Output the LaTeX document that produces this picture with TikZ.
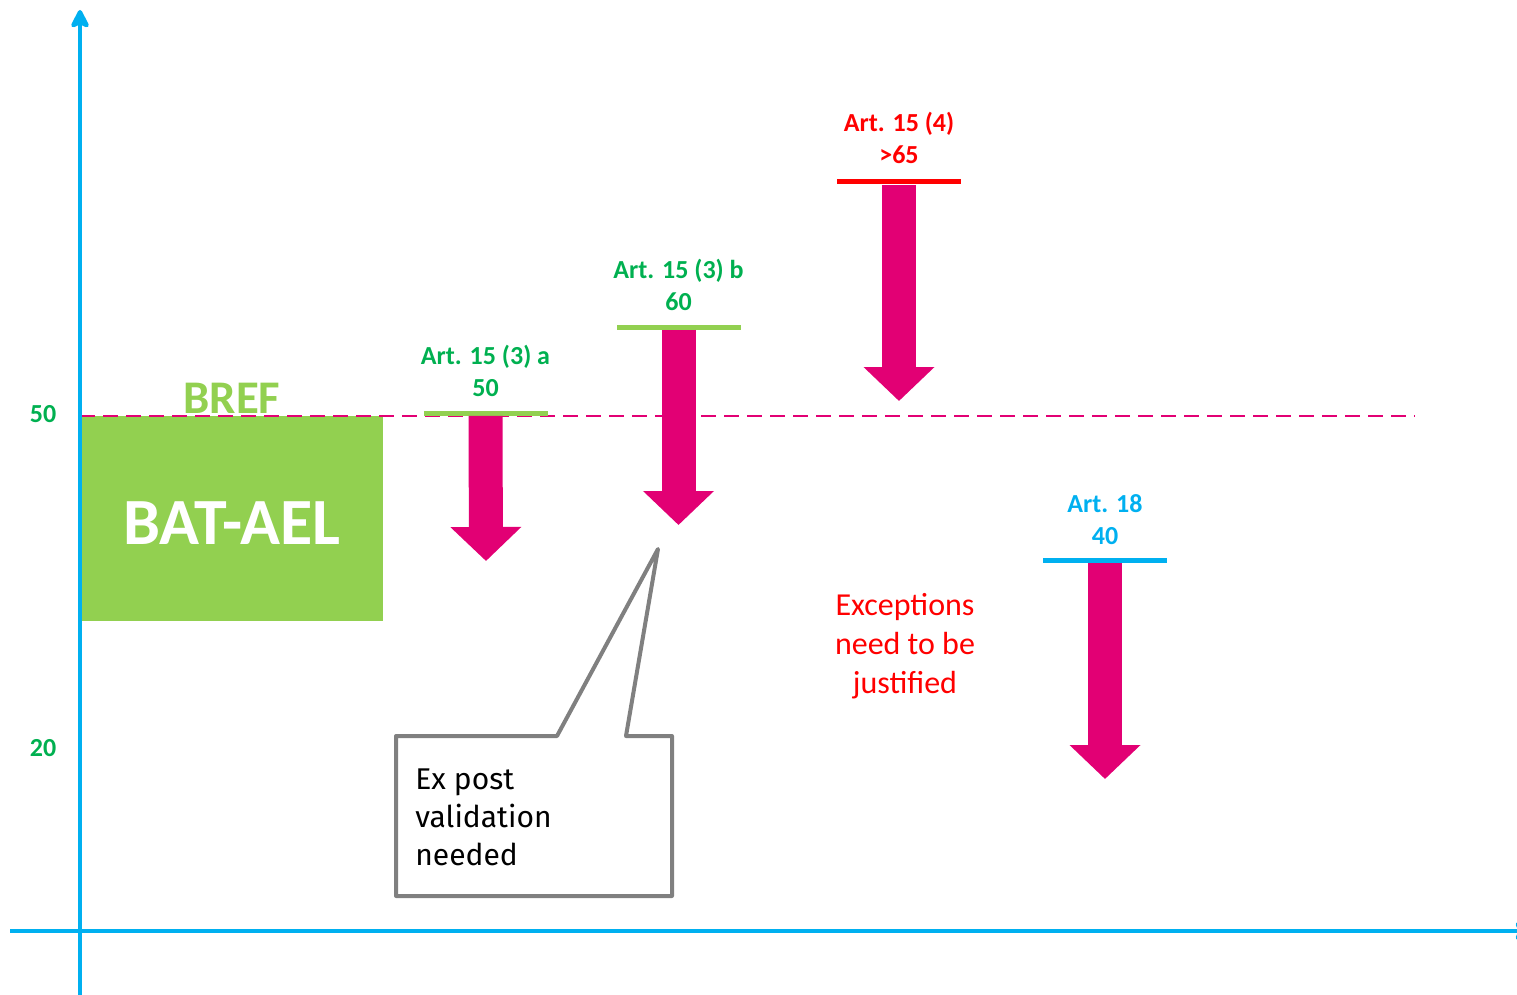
\documentclass[tikz,border=0pt]{standalone}
\usepackage{fontspec}
\setmainfont{Carlito}
\newfontfamily\calloutfont{Fira Sans}
\usepackage{xcolor}
\definecolor{baCyan}{RGB}{0,176,240}
\definecolor{baGreen}{RGB}{0,176,80}
\definecolor{baLime}{RGB}{146,208,80}
\definecolor{baMagenta}{RGB}{226,0,116}
\definecolor{baRed}{RGB}{255,0,0}
\definecolor{baGrey}{RGB}{128,128,128}
\usepackage{tikz}
\usetikzlibrary{positioning,arrows.meta}
\tikzset{
  ba-axis/.style={baCyan,line width=2.2pt,-{Stealth[length=11pt,width=11pt,inset=2.5pt,round]}},
  ba-ref/.style={baMagenta,line width=1pt,dash pattern=on 7.5pt off 4pt},
  ba-bar/.style={rectangle,inner sep=0pt,minimum width=62pt,minimum height=2.5pt},
  ba-label/.style={font=\fontsize{13}{16}\selectfont\bfseries,align=center,inner sep=0pt},
  ba-down/.style={baMagenta,line width=17pt,-{Triangle[length=17pt,width=34.5pt]}},
  ba-tick/.style={font=\fontsize{13}{16}\selectfont\bfseries,text=baGreen},
  ba-call/.style={draw=baGrey,fill=white,line width=2pt,line join=round},
}

\begin{document}
\begin{tikzpicture}[x=0.5pt,y=-0.5pt]
  \useasboundingbox (0,0) rectangle (1517,995);

  % BAT-AEL range
  \node[fill=baLime,minimum width=151.5pt,minimum height=102.5pt,inner sep=0pt,anchor=north west] (bat) at (80,416) {};
  \node[text=white,font=\fontsize{33}{33}\selectfont\bfseries,inner sep=0pt] (batlab) at (232,523) {BAT-AEL};
  \node[text=baLime,font=\fontsize{23.4}{24}\selectfont\bfseries,inner sep=0pt] (bref) at (232,398) {BREF};
  \coordinate (refend) at (1415,416);
  \draw[ba-ref] (bat.north west) -- (refend);

  % exceptions (bar + arrow down)
  \node[ba-bar,fill=baLime] (barA) at (485.5,413) {};
  \node[ba-label,text=baGreen,above=6.5pt of barA] (labA) {Art. 15 (3) a\\50};
  \coordinate (tipA) at (486,561);

  \node[ba-bar,fill=baLime] (barB) at (678.5,327) {};
  \node[ba-label,text=baGreen,above=6.5pt of barB] (labB) {Art. 15 (3) b\\60};
  \coordinate (tipB) at (678.5,525);

  \node[ba-bar,fill=baRed] (barC) at (899,182) {};
  \node[ba-label,text=baRed,above=7.5pt of barC] (labC) {Art. 15 (4)\\>65};
  \coordinate (tipC) at (899,401);

  \node[ba-bar,fill=baCyan] (barD) at (1105,560) {};
  \node[ba-label,text=baCyan,above=6pt of barD] (labD) {Art. 18\\40};
  \coordinate (tipD) at (1105,779);

  \draw[ba-down] (barA.south) -- (tipA);
  \draw[ba-down] (barB.south) -- (tipB);
  \draw[ba-down] (barC.south) -- (tipC);
  \draw[ba-down] (barD.south) -- (tipD);

  \node[text=baRed,align=center,font=\fontsize{16}{19.4}\selectfont] (exc) at (905,646) {Exceptions\\need to be\\justified};

  % callout
  \draw[ba-call] (396,736) -- (557,736) -- (658,549) -- (626,736) -- (672,736) -- (672,896) -- (396,896) -- cycle;
  \node[anchor=north west,align=left,inner sep=0pt,font=\calloutfont\fontsize{15}{19.2}\selectfont] (expost) at (415,768) {Ex post\\validation\\needed};

  % axes
  \coordinate (ybot) at (80,995);
  \coordinate (ytop) at (80,10);
  \coordinate (xleft) at (10,931);
  \coordinate (xright) at (1533,931);
  \draw[ba-axis] (ybot) -- (ytop);
  \draw[ba-axis] (xleft) -- (xright);
  \node[ba-tick] (t50) at (43,414) {50};
  \node[ba-tick] (t20) at (43,748) {20};
\end{tikzpicture}
\end{document}
